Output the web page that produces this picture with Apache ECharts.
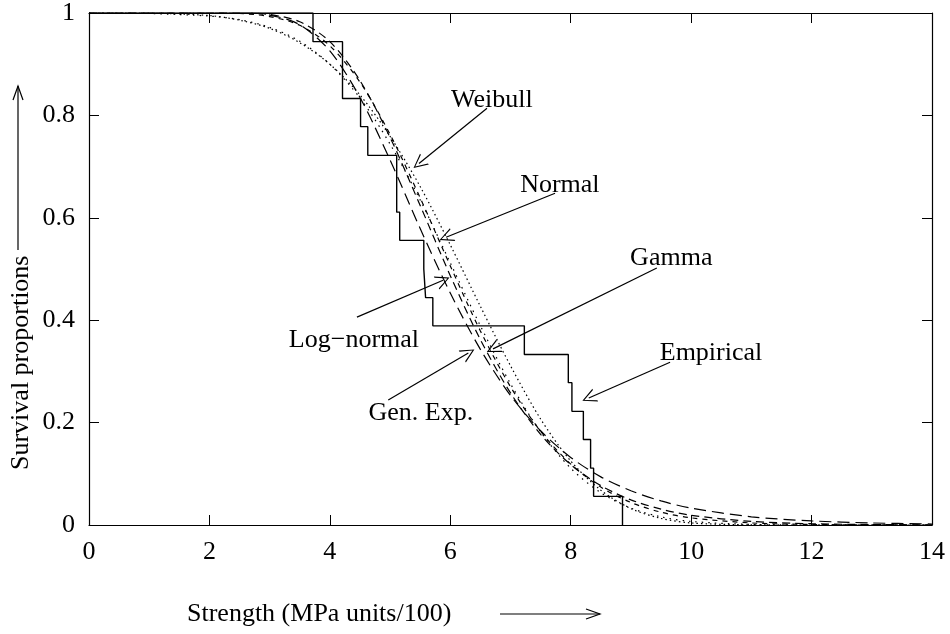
<!DOCTYPE html>
<html>
<head>
<meta charset="utf-8">
<script src="https://cdn.jsdelivr.net/npm/echarts@6/dist/echarts.min.js"></script>
<style>
  html, body { margin: 0; padding: 0; background: #fff; }
  #chart { width: 950px; height: 634px; }
</style>
</head>
<body>
<div id="chart"></div>
<script>
// strength grid (MPa units/100) the fitted curves are read at
const xGrid = [0, 1, 2, 2.5, 3, 3.5, 4, 4.5, 5, 5.5, 6, 6.5, 7, 7.5, 8, 8.5, 9, 9.5, 10, 11, 12, 13, 14]

// fitted survival curves
const weibull   = [1, 0.9997, 0.995, 0.986, 0.970, 0.942, 0.900, 0.840, 0.759, 0.661, 0.547, 0.427, 0.311, 0.207, 0.125, 0.068, 0.032, 0.013, 0.004, 0.0003, 0, 0, 0]
const normal    = [1, 0.999, 0.994, 0.987, 0.972, 0.945, 0.900, 0.834, 0.744, 0.635, 0.512, 0.389, 0.276, 0.182, 0.111, 0.063, 0.033, 0.016, 0.007, 0.001, 0, 0, 0]
const gamma     = [1, 1, 1, 0.999, 0.993, 0.976, 0.936, 0.865, 0.763, 0.639, 0.506, 0.379, 0.270, 0.183, 0.119, 0.074, 0.044, 0.025, 0.014, 0.004, 0.001, 0.0002, 0]
const lognormal = [1, 1, 1, 1, 0.997, 0.983, 0.944, 0.868, 0.757, 0.624, 0.487, 0.362, 0.258, 0.177, 0.118, 0.077, 0.049, 0.031, 0.019, 0.007, 0.0025, 0.0009, 0.0003]
const genExp    = [1, 1, 1, 1, 0.996, 0.977, 0.926, 0.835, 0.713, 0.579, 0.453, 0.343, 0.253, 0.184, 0.132, 0.094, 0.067, 0.047, 0.033, 0.016, 0.008, 0.004, 0.002]

// empirical survival steps
const empiricalX = [0, 3.72, 4.21, 4.51, 4.63, 5.11, 5.16, 5.56, 5.59, 5.71, 7.23, 7.96, 8.02, 8.21, 8.33, 8.38, 8.86]
const empiricalS = [1, 0.944, 0.833, 0.778, 0.722, 0.611, 0.556, 0.5, 0.444, 0.389, 0.333, 0.278, 0.222, 0.167, 0.111, 0.056, 0]

// annotation labels and arrows (data coords)
const labelNames = ['Weibull', 'Normal', 'Gamma', 'Log\u2212normal', 'Gen. Exp.', 'Empirical']
const labelPos   = [[6.69, 0.830], [7.82, 0.664], [9.67, 0.521], [4.40, 0.361], [5.51, 0.219], [10.33, 0.336]]
const arrowFrom  = [[6.61, 0.814], [7.74, 0.648], [9.43, 0.502], [4.45, 0.406], [4.97, 0.244], [9.65, 0.318]]
const arrowTo    = [[5.48, 0.706], [5.93, 0.562], [6.71, 0.344], [5.88, 0.478], [6.30, 0.336], [8.30, 0.248]]

const FONT = 'Liberation Serif'
const FS = 26
const chevron = 'path://M7,0 L14,16 L12.6,16 L7,2.6 L1.4,16 L0,16 Z'

const zip = (xs, ys) => xs.map((x, i) => [x, ys[i]])

function curve(name, data, dash) {
  return {
    name: name,
    type: 'line',
    data: zip(xGrid, data),
    showSymbol: false,
    smooth: 0.3,
    silent: true,
    lineStyle: { color: '#000', width: 1.2, type: dash }
  }
}

const chart = echarts.init(document.getElementById('chart'))

const axisCommon = {
  type: 'value',
  min: 0,
  axisLine: { show: true, onZero: false, lineStyle: { color: '#000', width: 1.2 } },
  axisTick: { show: true, inside: true, length: 10, lineStyle: { color: '#000' } },
  splitLine: { show: false }
}
const labelStyle = { color: '#000', fontFamily: FONT, fontSize: FS, margin: 14 }

chart.setOption({
  animation: false,
  backgroundColor: '#fff',
  grid: { left: 89, right: 18, top: 13, bottom: 109 },
  xAxis: [
    Object.assign({}, axisCommon, { position: 'bottom', max: 14, interval: 2, axisLabel: labelStyle }),
    Object.assign({}, axisCommon, { position: 'top', max: 14, interval: 2, axisLabel: { show: false } })
  ],
  yAxis: [
    Object.assign({}, axisCommon, { position: 'left', max: 1, interval: 0.2, axisLabel: labelStyle }),
    Object.assign({}, axisCommon, { position: 'right', max: 1, interval: 0.2, axisLabel: { show: false } })
  ],
  graphic: [
    { type: 'text', left: 187, top: 601, style: { text: 'Strength (MPa units/100)', font: FS + 'px "' + FONT + '"', fill: '#000' } },
    { type: 'line', shape: { x1: 500, y1: 614, x2: 600, y2: 614 }, style: { stroke: '#000', lineWidth: 1.2 } },
    { type: 'polyline', shape: { points: [[586, 609], [600, 614], [586, 619]] }, style: { stroke: '#000', lineWidth: 1.2, fill: null } },
    { type: 'text', x: 8, y: 470, rotation: Math.PI / 2, style: { text: 'Survival proportions', font: FS + 'px "' + FONT + '"', fill: '#000' } },
    { type: 'line', shape: { x1: 18, y1: 250, x2: 18, y2: 86 }, style: { stroke: '#000', lineWidth: 1.2 } },
    { type: 'polyline', shape: { points: [[13, 100], [18, 86], [23, 100]] }, style: { stroke: '#000', lineWidth: 1.2, fill: null } }
  ],
  series: [
    {
      name: 'Empirical',
      type: 'line',
      step: 'end',
      data: zip(empiricalX, empiricalS),
      showSymbol: false,
      silent: true,
      lineStyle: { color: '#000', width: 1.4 },
      markLine: {
        silent: true,
        symbol: ['none', chevron],
        symbolSize: 14,
        label: { show: false },
        lineStyle: { color: '#000', width: 1.2, type: 'solid' },
        data: arrowFrom.map((p, i) => [{ coord: p }, { coord: arrowTo[i] }])
      },
      markPoint: {
        silent: true,
        symbol: 'circle',
        symbolSize: 1,
        itemStyle: { color: 'rgba(0,0,0,0)' },
        label: { show: true, position: 'inside', formatter: '{b}', color: '#000', fontFamily: FONT, fontSize: FS },
        data: labelNames.map((n, i) => ({ name: n, coord: labelPos[i] }))
      }
    },
    curve('Weibull', weibull, [1.5, 3]),
    curve('Normal', normal, [1.5, 5]),
    curve('Gamma', gamma, [5, 5]),
    curve('Log-normal', lognormal, [8, 5]),
    curve('Gen. Exp.', genExp, [12, 6])
  ]
})
</script>
</body>
</html>
